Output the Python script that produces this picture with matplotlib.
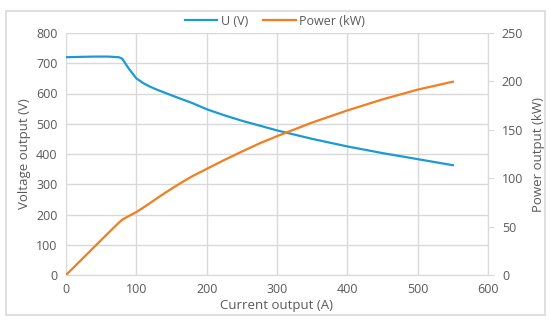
import matplotlib
matplotlib.use("Agg")
import matplotlib.pyplot as plt
from matplotlib.patches import Rectangle

plt.rcParams['font.family'] = ['Open Sans', 'DejaVu Sans']

current = [0, 20, 40, 60, 75, 80, 85, 90, 100, 110, 120, 130, 140, 150, 165, 180, 200,
           225, 250, 275, 300, 350, 400, 450, 500, 550]
voltage = [720, 721, 722, 722, 720, 715, 697, 680, 650, 634, 622, 612, 603, 594, 581, 568, 548,
           528, 510, 494, 478, 450, 425, 403, 383, 363]
power = [0, 14.4, 28.9, 43.3, 54.0, 57.2, 59.2, 61.2, 65.0, 69.7, 74.6, 79.6, 84.4, 89.1, 95.9,
         102.2, 109.6, 118.8, 127.5, 135.9, 143.4, 157.5, 170.0, 181.4, 191.5, 199.7]

x_ticks = [0, 100, 200, 300, 400, 500, 600]
v_ticks = [0, 100, 200, 300, 400, 500, 600, 700, 800]
p_ticks = [0, 50, 100, 150, 200, 250]

blue = '#1C9AD6'
orange = '#F47D20'
grid_c = '#D9D9D9'
text_c = '#595959'

fig = plt.figure(figsize=(5.5, 3.26), dpi=100)
fig.patches.append(Rectangle((0.01, 0.035), 0.98, 0.93, transform=fig.transFigure,
                             fill=False, edgecolor='#D9D9D9', linewidth=1.2))

ax = fig.add_axes([66/550, 1 - 275/326, (488-66)/550, (275-33)/326])
ax2 = ax.twinx()

ax.plot(current, voltage, color=blue, lw=1.6, label='U (V)')
ax2.plot(current, power, color=orange, lw=1.6, label='Power (kW)')

ax.set_xlim(0, 600)
ax.set_ylim(0, 800)
ax2.set_ylim(0, 250)
ax.set_xticks(x_ticks)
ax.set_yticks(v_ticks)
ax2.set_yticks(p_ticks)

ax.grid(True, color=grid_c, lw=1.0)
ax.set_axisbelow(True)
for s in ['top', 'left', 'right']:
    ax.spines[s].set_visible(False)
    ax2.spines[s].set_visible(False)
ax2.spines['bottom'].set_visible(False)
ax.spines['bottom'].set_color(grid_c)
ax2.spines['right'].set_visible(True)
ax2.spines['right'].set_color(grid_c)

ax.tick_params(axis='both', length=0, labelsize=9, colors=text_c, pad=6)
ax2.tick_params(axis='y', length=4, color=grid_c, labelsize=9, labelcolor=text_c, pad=6)

ax.set_xlabel('Current output (A)', fontsize=9.5, color=text_c, labelpad=2)
ax.set_ylabel('Voltage output (V)', fontsize=9.5, color=text_c, labelpad=4)
ax2.set_ylabel('Power output (kW)', fontsize=9.5, color=text_c, labelpad=6)

h1, l1 = ax.get_legend_handles_labels()
h2, l2 = ax2.get_legend_handles_labels()
fig.legend(h1 + h2, l1 + l2, loc='center', bbox_to_anchor=(0.5, 0.935), ncol=2,
           frameon=False, fontsize=9, labelcolor=text_c, handlelength=2.6,
           columnspacing=1.2, handletextpad=0.3)

fig.savefig('out.png', dpi=100)
